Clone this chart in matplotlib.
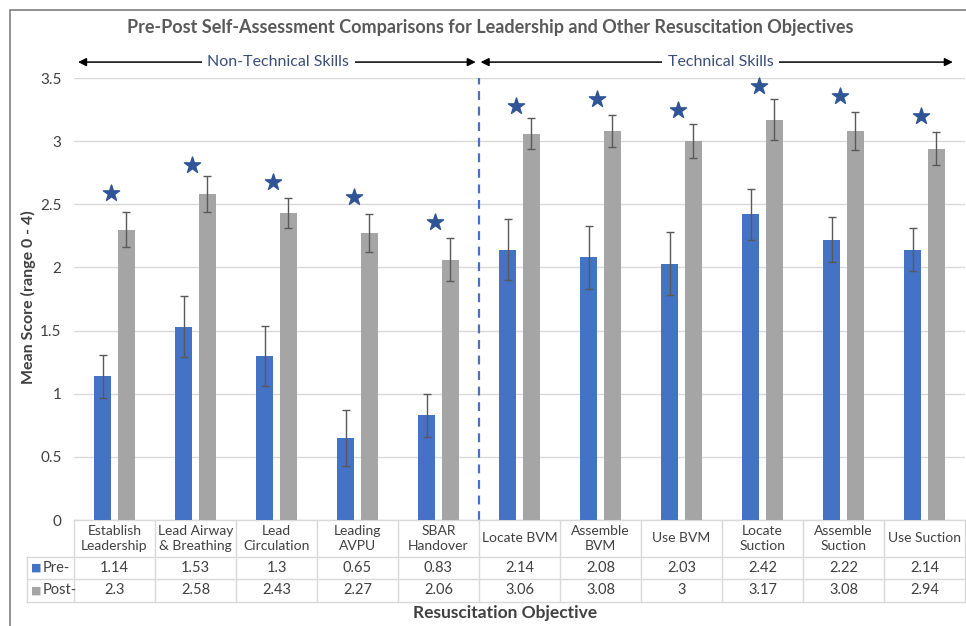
#!/usr/bin/env python3
"""
Pre-Post self-assessment comparison: grouped bars with error bars,
significance stars and a data table underneath.
"""
import matplotlib
matplotlib.use("Agg")
import matplotlib.pyplot as plt
from matplotlib.patches import Rectangle
import matplotlib.transforms as mtransforms

plt.rcParams["font.family"] = ["Lato", "DejaVu Sans"]

CATEGORIES = [
    "Establish\nLeadership", "Lead Airway\n& Breathing", "Lead\nCirculation",
    "Leading\nAVPU", "SBAR\nHandover", "Locate BVM", "Assemble\nBVM",
    "Use BVM", "Locate\nSuction", "Assemble\nSuction", "Use Suction",
]
PRE = [1.14, 1.53, 1.3, 0.65, 0.83, 2.14, 2.08, 2.03, 2.42, 2.22, 2.14]
POST = [2.3, 2.58, 2.43, 2.27, 2.06, 3.06, 3.08, 3, 3.17, 3.08, 2.94]
PRE_ERR = [0.17, 0.24, 0.24, 0.22, 0.17, 0.24, 0.25, 0.25, 0.20, 0.18, 0.17]
POST_ERR = [0.14, 0.145, 0.12, 0.15, 0.17, 0.12, 0.13, 0.135, 0.16, 0.15, 0.13]
STAR_Y = [2.59, 2.81, 2.68, 2.56, 2.36, 3.28, 3.33, 3.25, 3.44, 3.36, 3.20]
SERIES = ["Pre-", "Post-"]
YTICKS = [0, 0.5, 1, 1.5, 2, 2.5, 3, 3.5]

BLUE = "#4472C4"
GRAY = "#A5A5A5"
STAR = "#2F5597"
TXT = "#404040"
LINE = "#D9D9D9"

W, H = 966, 626
fig = plt.figure(figsize=(W / 100, H / 100), dpi=100)
ax = fig.add_axes([74 / W, 1 - 520 / H, 891 / W, 442 / H])

x = list(range(len(CATEGORIES)))
bw = 0.21
off = 0.148
ekw = dict(ecolor="#595959", elinewidth=1.0, capsize=3, capthick=1.0)
ax.bar([i - off for i in x], PRE, bw, color=BLUE, yerr=PRE_ERR, error_kw=ekw, zorder=3)
ax.bar([i + off for i in x], POST, bw, color=GRAY, yerr=POST_ERR, error_kw=ekw, zorder=3)
ax.scatter([i - 0.04 for i in x], STAR_Y, marker="*", s=150, color=STAR, zorder=4, clip_on=False)

ax.set_xlim(-0.5, len(CATEGORIES) - 0.5)
ax.set_ylim(0, 3.5)
ax.set_yticks(YTICKS)
ax.set_yticklabels([f"{v:g}" for v in YTICKS], fontsize=11, color=TXT)
ax.tick_params(axis="y", length=0, pad=9)
ax.set_xticks([])
ax.grid(axis="y", color=LINE, lw=1.0, zorder=0)
for s in ax.spines.values():
    s.set_visible(False)

# divider between skill groups
ax.axvline(4.5, ymin=0, ymax=1, color=BLUE, ls=(0, (4, 3)), lw=1.6, zorder=2)

# group arrows above plot
arrow_y = 3.626
for x0, x1, xt, label in [(-0.45, 4.46, 2.02, "Non-Technical Skills"),
                          (4.52, 10.35, 7.48, "Technical Skills")]:
    ax.annotate("", xy=(x0, arrow_y), xytext=(x1, arrow_y), annotation_clip=False,
                arrowprops=dict(arrowstyle="<|-|>", color="black", lw=1.1,
                                mutation_scale=12, shrinkA=0, shrinkB=0))
    ax.text(xt, arrow_y, label, ha="center", va="center", fontsize=11.5, color="#3B4E78",
            bbox=dict(facecolor="white", edgecolor="none", pad=4), zorder=5, clip_on=False)

# data table below axis
tr = mtransforms.blended_transform_factory(ax.transData, ax.transAxes)
ax_px = 442.0
r0, r1, r2, r3 = 0, -37 / ax_px, -59 / ax_px, -82 / ax_px
left_col = (27 - 74) / 891
lk = dict(color=LINE, lw=1.0, clip_on=False, transform=ax.transAxes)
ax.plot([0, 1], [r0, r0], **lk)
for yy in (r1, r2, r3):
    ax.plot([left_col, 1], [yy, yy], **lk)
ax.plot([left_col, left_col], [r1, r3], **lk)
for k in range(len(CATEGORIES) + 1):
    xx = k / len(CATEGORIES)
    ax.plot([xx, xx], [r0, r3], **lk)

for i, cat in enumerate(CATEGORIES):
    ax.text(i, (r0 + r1) / 2, cat, transform=tr, ha="center", va="center",
            fontsize=10, color=TXT, linespacing=1.3)
    ax.text(i, (r1 + r2) / 2, f"{PRE[i]:g}", transform=tr, ha="center", va="center",
            fontsize=10.5, color=TXT)
    ax.text(i, (r2 + r3) / 2, f"{POST[i]:g}", transform=tr, ha="center", va="center",
            fontsize=10.5, color=TXT)

for (ya, yb), name, col in [((r1, r2), SERIES[0], BLUE), ((r2, r3), SERIES[1], GRAY)]:
    ax.text(left_col + 0.005, (ya + yb) / 2, "■", transform=ax.transAxes, ha="left",
            va="center", fontsize=8, color=col, family="DejaVu Sans")
    ax.text(left_col + 0.018, (ya + yb) / 2, name, transform=ax.transAxes, ha="left",
            va="center", fontsize=10.5, color=TXT)

fig.text(28 / W, 1 - 297 / H, "Mean Score (range 0 - 4)", rotation=90, ha="center",
         va="center", fontsize=11.5, fontweight="bold", color=TXT)
fig.text(505 / W, 1 - 613 / H, "Resuscitation Objective", ha="center", va="center",
         fontsize=12.5, fontweight="bold", color=TXT)
fig.text(490 / W, 1 - 27 / H, "Pre-Post Self-Assessment Comparisons for Leadership and Other Resuscitation Objectives",
         ha="center", va="center", fontsize=13, fontweight="bold", color="#595959")

fig.patches.append(Rectangle((10 / W, -0.1), 1.2, 1 - 10 / H + 0.1, transform=fig.transFigure,
                             fill=False, edgecolor="#7F7F7F", lw=1.2))

fig.savefig("out.png", dpi=100)
